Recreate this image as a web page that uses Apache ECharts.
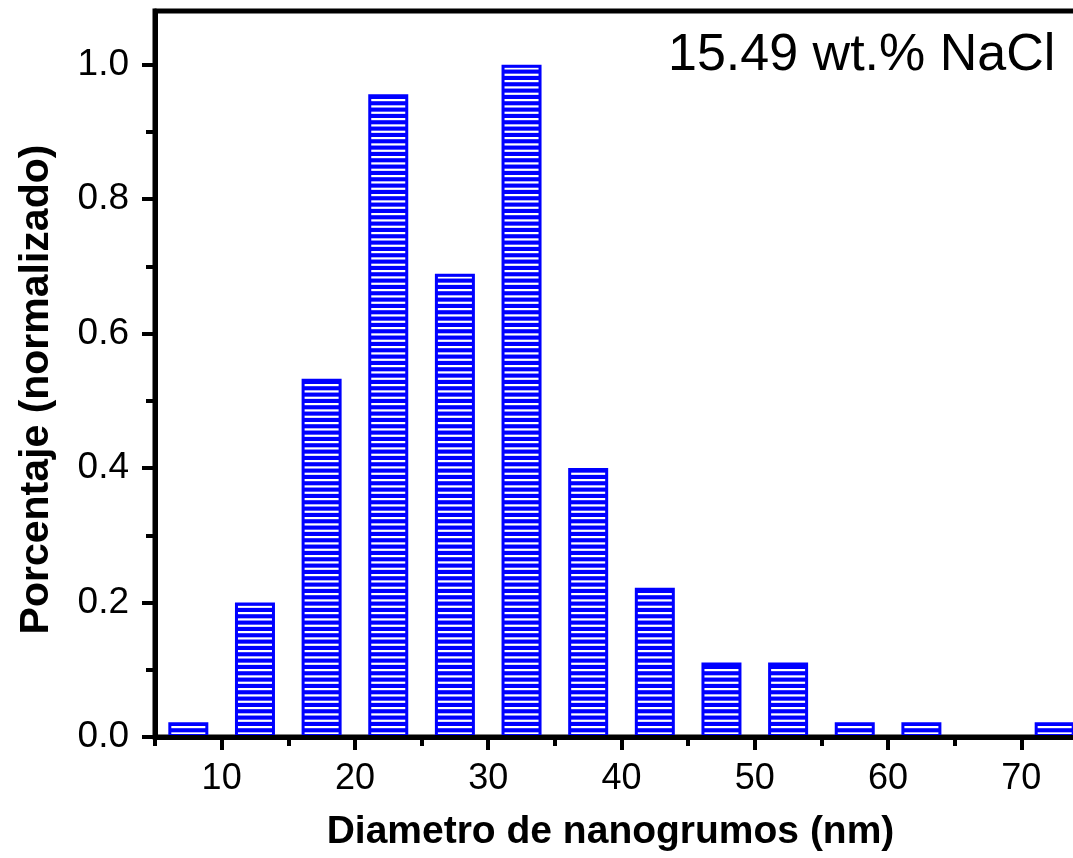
<!DOCTYPE html>
<html>
<head>
<meta charset="utf-8">
<script src="https://cdn.jsdelivr.net/npm/echarts@6/dist/echarts.min.js"></script>
<style>
html,body{margin:0;padding:0;background:#fff;}
#chart{width:1073px;height:858px;}
</style>
</head>
<body>
<div id="chart"></div>
<script>
// Data (bin centres in nm, normalized percentage)
const categories = [7.5, 12.5, 17.5, 22.5, 27.5, 32.5, 37.5, 42.5, 47.5, 52.5, 57.5, 62.5, 67.5, 72.5];
const values = [0.022, 0.2, 0.533, 0.956, 0.689, 1.0, 0.4, 0.222, 0.111, 0.111, 0.022, 0.022, 0, 0.022];
const xMajorTicks = [10, 20, 30, 40, 50, 60, 70];
const xMinorTicks = [5, 15, 25, 35, 45, 55, 65, 75];
const yMajorTicks = [0, 0.2, 0.4, 0.6, 0.8, 1.0];
const yMinorTicks = [0.1, 0.3, 0.5, 0.7, 0.9];
const xTitle = 'Diametro de nanogrumos (nm)';
const yTitle = 'Porcentaje (normalizado)';
const annotation = '15.49 wt.% NaCl';

const FONT = '"Liberation Sans", Arial, sans-serif';
const BLUE = '#0000FF';

// horizontal stripe pattern
const pat = document.createElement('canvas');
pat.width = 8; pat.height = 19;
const pc = pat.getContext('2d');
pc.fillStyle = BLUE; pc.fillRect(0, 0, 8, 19);
pc.fillStyle = '#ffffff';
for (let i = 0; i < 3; i++) { pc.fillRect(0, 4 + i * 19 / 3, 8, 2.2); }

const barData = categories.map((c, i) => [c, values[i]]);

const chart = echarts.init(document.getElementById('chart'), null, {renderer: 'canvas'});
chart.setOption({
  backgroundColor: '#ffffff',
  animation: false,
  grid: {left: 155, top: 11, width: 933, height: 726, containLabel: false, outerBoundsMode: 'none',
    show: true, borderColor: '#000', borderWidth: 5, backgroundColor: 'transparent'},
  xAxis: [{
    type: 'value', min: 5, max: 75, z: 10,
    name: xTitle, nameLocation: 'middle', nameGap: 76,
    nameTextStyle: {fontFamily: FONT, fontSize: 39, fontWeight: 'bold', color: '#000', padding: [0, 22, 0, 0]},
    axisLine: {show: true, lineStyle: {color: '#000', width: 5}},
    axisTick: {show: true, inside: false, length: 13, lineStyle: {color: '#000', width: 4}, customValues: xMajorTicks},
    axisLabel: {show: true, margin: 24, fontFamily: FONT, fontSize: 36, color: '#000', customValues: xMajorTicks},
    splitLine: {show: false}
  }, {
    type: 'value', min: 5, max: 75, position: 'bottom', z: 10,
    axisLine: {show: false},
    axisTick: {show: true, inside: false, length: 9, lineStyle: {color: '#000', width: 4}, customValues: xMinorTicks},
    axisLabel: {show: false},
    splitLine: {show: false}
  }],
  yAxis: [{
    type: 'value', min: 0, max: 1.08, z: 10,
    name: yTitle, nameLocation: 'middle', nameGap: 98, nameRotate: 90,
    nameTextStyle: {fontFamily: FONT, fontSize: 41, fontWeight: 'bold', color: '#000', padding: [0, 31, 0, 0]},
    axisLine: {show: true, lineStyle: {color: '#000', width: 5}},
    axisTick: {show: true, inside: false, length: 13, lineStyle: {color: '#000', width: 4}, customValues: yMajorTicks},
    axisLabel: {show: true, margin: 26, fontFamily: FONT, fontSize: 37, color: '#000', customValues: yMajorTicks,
      formatter: v => v.toFixed(1)},
    splitLine: {show: false}
  }, {
    type: 'value', min: 0, max: 1.08, position: 'left', z: 10,
    axisLine: {show: false},
    axisTick: {show: true, inside: false, length: 9, lineStyle: {color: '#000', width: 4}, customValues: yMinorTicks},
    axisLabel: {show: false},
    splitLine: {show: false}
  }],
  series: [{
    type: 'bar', xAxisIndex: 0, yAxisIndex: 0,
    data: barData, barWidth: 40,
    itemStyle: {color: {image: pat, repeat: 'repeat'}, borderColor: BLUE, borderWidth: 3}
  }],
  graphic: [{
    type: 'text', x: 668, y: 56, z: 20,
    style: {text: annotation, font: '52px ' + FONT, fill: '#000', textVerticalAlign: 'middle', textAlign: 'left'}
  }]
});
</script>
</body>
</html>
